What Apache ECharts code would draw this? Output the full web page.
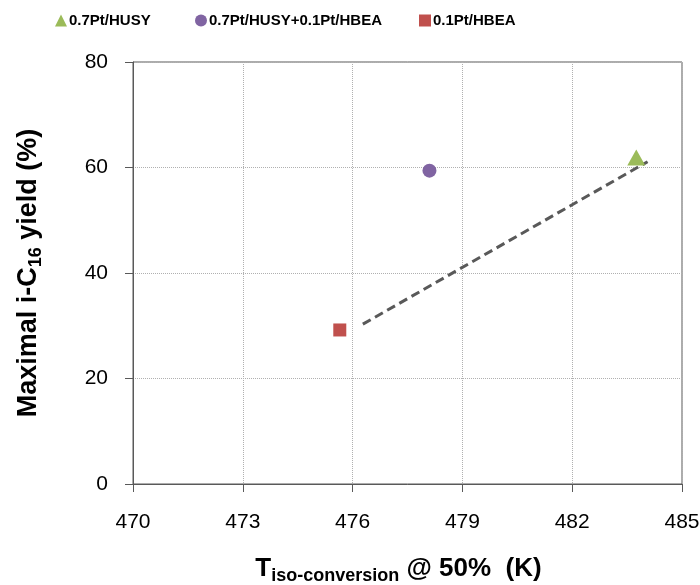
<!DOCTYPE html>
<html>
<head>
<meta charset="utf-8">
<script src="https://cdn.jsdelivr.net/npm/echarts@6/dist/echarts.min.js"></script>
<style>html,body{margin:0;padding:0;background:#fff}#c{width:700px;height:585px}</style>
</head>
<body>
<div id="c"></div>
<script>
var seriesNames = ['0.7Pt/HUSY', '0.7Pt/HUSY+0.1Pt/HBEA', '0.1Pt/HBEA'];
var husy = [[483.75, 61.9]];
var mixed = [[478.1, 59.4]];
var hbea = [[475.65, 29.2]];
var trendLine = [[476.28, 30.3], [484.06, 61.1]];
var xTicks = [470, 473, 476, 479, 482, 485];
var yTicks = [0, 20, 40, 60, 80];

var FONT = '"Liberation Sans", Arial, sans-serif';
var chart = echarts.init(document.getElementById('c'));
function leg(name, left) {
  return {
    data: [name], left: left, top: 8, itemWidth: 12, itemHeight: 12, itemGap: 5,
    textStyle: {fontFamily: FONT, fontWeight: 'bold', fontSize: 15, color: '#000', padding: [0,0,0,-3]},
    selectedMode: false
  };
}
chart.setOption({
  animation: false,
  textStyle: {fontFamily: FONT},
  legend: [leg(seriesNames[0], 50), leg(seriesNames[1], 190), leg(seriesNames[2], 414)],
  grid: {left: 133, right: 18, top: 62, bottom: 101, containLabel: false, outerBoundsMode: 'none',
         show: true, borderColor: '#595959', borderWidth: 1, backgroundColor: 'transparent'},
  xAxis: {
    type: 'value', min: xTicks[0], max: xTicks[xTicks.length - 1], interval: xTicks[1] - xTicks[0],
    axisLine: {show: true, lineStyle: {color: '#595959', width: 1}},
    axisTick: {show: true, length: 8, inside: false, lineStyle: {color: '#595959'}},
    axisLabel: {fontSize: 21, color: '#000', margin: 28, fontFamily: FONT},
    splitLine: {show: true, lineStyle: {type: 'dotted', color: '#b0b0b0', width: 1}},
    name: '{t|T}{s|iso-conversion}{t| @ 50%  (K)}',
    nameLocation: 'middle', nameGap: 68,
    nameTextStyle: {padding: [0, 18, 0, 0], rich: {
      t: {fontSize: 26, fontWeight: 'bold', color: '#000', fontFamily: FONT},
      s: {fontSize: 18, fontWeight: 'bold', color: '#000', fontFamily: FONT, padding: [15, 0, 0, 0]}
    }}
  },
  yAxis: {
    type: 'value', min: yTicks[0], max: yTicks[yTicks.length - 1], interval: yTicks[1] - yTicks[0],
    axisLine: {show: true, lineStyle: {color: '#595959', width: 1}},
    axisTick: {show: true, length: 8, inside: false, lineStyle: {color: '#595959'}},
    axisLabel: {fontSize: 21, color: '#000', margin: 25, fontFamily: FONT},
    splitLine: {show: true, lineStyle: {type: 'dotted', color: '#b0b0b0', width: 1}},
    name: '{t|Maximal i-C}{s|16}{t| yield (%)}',
    nameLocation: 'middle', nameGap: 88, nameRotate: 90,
    nameTextStyle: {rich: {
      t: {fontSize: 27, fontWeight: 'bold', color: '#000', fontFamily: FONT},
      s: {fontSize: 18, fontWeight: 'bold', color: '#000', fontFamily: FONT, padding: [15, 0, 0, 0]}
    }}
  },
  series: [
    {name: seriesNames[0], type: 'scatter', data: husy, symbol: 'triangle', symbolSize: [18, 16], itemStyle: {color: '#9BBB59', opacity: 1}},
    {name: seriesNames[1], type: 'scatter', data: mixed, symbol: 'circle', symbolSize: 14, itemStyle: {color: '#8064A2', opacity: 1}},
    {name: seriesNames[2], type: 'scatter', data: hbea, symbol: 'rect', symbolSize: 13, itemStyle: {color: '#C0504D', opacity: 1}},
    {name: 'trend', type: 'line', data: trendLine, symbol: 'none', lineStyle: {type: [9, 5], color: '#595959', width: 3}, z: 1}
  ]
});
</script>
</body>
</html>
